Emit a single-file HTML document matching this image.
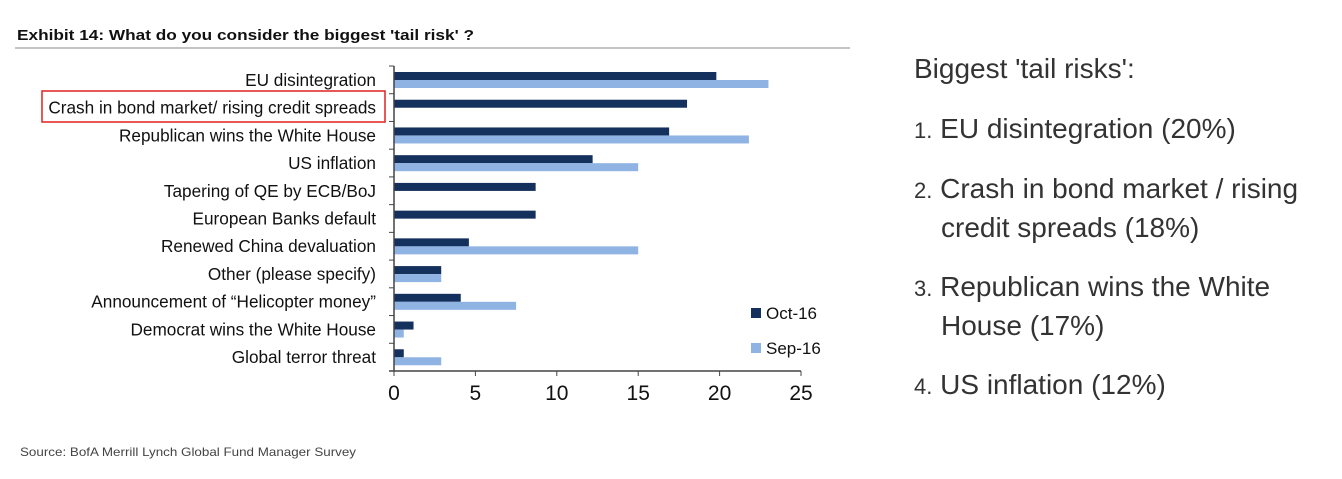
<!DOCTYPE html>
<html><head><meta charset="utf-8"><style>
body{margin:0;width:1342px;height:479px;background:#fff;overflow:hidden;font-family:"Liberation Sans",sans-serif;}
.rt{position:absolute;left:914px;color:#333;font-size:28px;line-height:37px;white-space:nowrap;}
</style></head><body>
<svg width="1342" height="479" style="position:absolute;left:0;top:0">
<text x="17" y="40" font-size="15" font-weight="bold" fill="#111" textLength="457" lengthAdjust="spacingAndGlyphs">Exhibit 14: What do you consider the biggest 'tail risk' ?</text>
<line x1="15" y1="48" x2="850" y2="48" stroke="#888" stroke-width="1"/>
<g id="plot"></g>
<rect x="42" y="91" width="343" height="31" fill="none" stroke="#e02020" stroke-width="1.5"/>
<text x="20" y="456" font-size="12" fill="#444" textLength="336" lengthAdjust="spacingAndGlyphs">Source: BofA Merrill Lynch Global Fund Manager Survey</text>
</svg>
<div class="rt" style="top:50px">Biggest 'tail risks':</div>
<div class="rt" style="top:110px"><span style="font-size:22px">1.</span> EU disintegration (20%)</div>
<div class="rt" style="top:170px"><span style="font-size:22px">2.</span> Crash in bond market / rising<br><span style="padding-left:27px">credit spreads (18%)</span></div>
<div class="rt" style="top:268px"><span style="font-size:22px">3.</span> Republican wins the White<br><span style="padding-left:27px">House (17%)</span></div>
<div class="rt" style="top:366px"><span style="font-size:22px">4.</span> US inflation (12%)</div>
<script>
const categories=["EU disintegration","Crash in bond market/ rising credit spreads","Republican wins the White House","US inflation","Tapering of QE by ECB/BoJ","European Banks default","Renewed China devaluation","Other (please specify)","Announcement of \u201cHelicopter money\u201d","Democrat wins the White House","Global terror threat"];
const oct16=[19.8,18,16.9,12.2,8.7,8.7,4.6,2.9,4.1,1.2,0.6];
const sep16=[23,0,21.8,15,0,0,15,2.9,7.5,0.6,2.9];
const xTicks=[0,5,10,15,20,25];
const NS="http://www.w3.org/2000/svg";
const g=document.getElementById('plot');
const x0=394,x1=801,yTop=66,yBot=371;
const band=(yBot-yTop)/categories.length;
const xs=v=>x0+(x1-x0)*v/25;
function mk(t,a){const e=document.createElementNS(NS,t);for(const k in a)e.setAttribute(k,a[k]);g.appendChild(e);return e;}
categories.forEach((c,i)=>{
 const yb=yTop+i*band;
 const t=mk('text',{x:376,y:yb+band/2+6,'font-size':17.2,'text-anchor':'end',fill:'#111'});
 t.textContent=c;
 
 
 if(oct16[i]>0){const r=mk('rect',{x:x0,y:yb+6,width:xs(oct16[i])-x0,height:8,fill:'#14305c'});
 
 }
 if(sep16[i]>0){const r=mk('rect',{x:x0,y:yb+14,width:xs(sep16[i])-x0,height:8,fill:'#8fb3e3'});
 
 }
 const tk=mk('line',{x1:x0-5,x2:x0,y1:yb,y2:yb,stroke:'#444'});
 
 
});
const ya=mk('line',{x1:x0,x2:x0,y1:yTop,y2:yBot,stroke:'#444','stroke-width':1.5});


const xa=mk('line',{x1:x0-5,x2:x1,y1:yBot,y2:yBot,stroke:'#444','stroke-width':1.5});


xTicks.forEach(v=>{
 const l=mk('line',{x1:xs(v),x2:xs(v),y1:yBot,y2:yBot+5,stroke:'#444'});
 
 
 const t=mk('text',{x:xs(v),y:yBot+29,'font-size':21,'text-anchor':'middle',fill:'#111'});
 t.textContent=v;
 
 
});
[["Oct-16","#14305c",308],["Sep-16","#8fb3e3",343]].forEach(([n,c,y])=>{
 const r=mk('rect',{x:751,y:y,width:10,height:10,fill:c});
 
 
 const t=mk('text',{x:766,y:y+11,'font-size':17,fill:'#111'});
 t.textContent=n;
 
 
});
</script>
</body></html>
